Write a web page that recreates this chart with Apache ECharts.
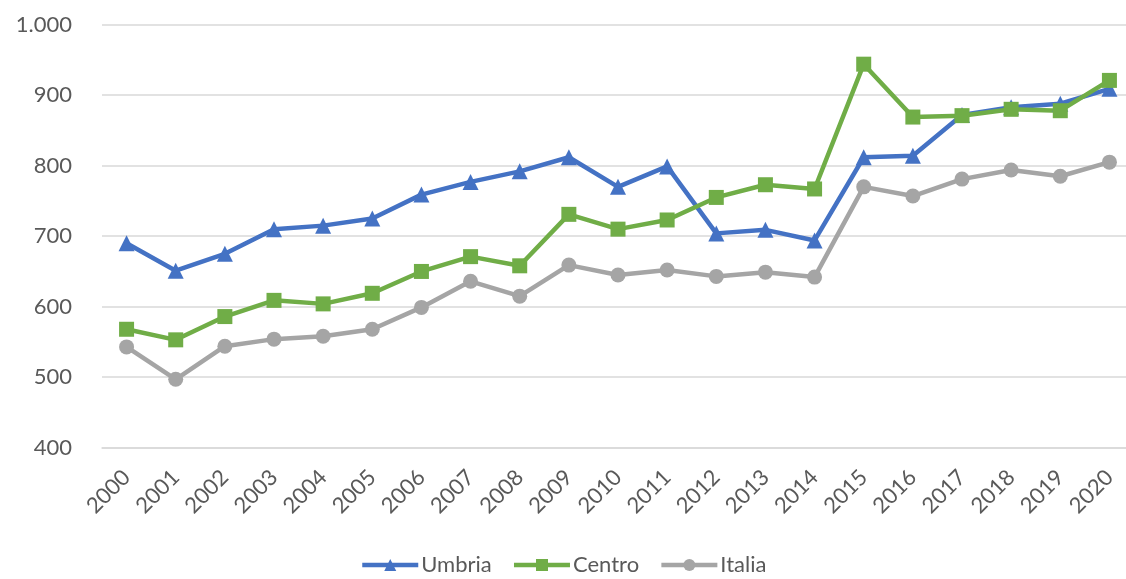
<!DOCTYPE html>
<html>
<head>
<meta charset="utf-8">
<script src="https://cdn.jsdelivr.net/npm/echarts@6/dist/echarts.min.js"></script>
<style>
  html, body { margin: 0; padding: 0; background: #ffffff; overflow: hidden; }
  #wrap { width: 1126px; height: 579px; overflow: hidden; position: relative; }
  #chart { width: 1140px; height: 579px; }
</style>
</head>
<body>
<div id="wrap"><div id="chart"></div></div>
<script>
// Years on the category axis
const years = ['2000','2001','2002','2003','2004','2005','2006','2007','2008','2009','2010',
               '2011','2012','2013','2014','2015','2016','2017','2018','2019','2020'];

// Series values
const umbria = [690, 651, 675, 710, 715, 725, 759, 777, 792, 812, 770, 799, 704, 709, 694, 812, 814, 872, 883, 888, 909];
const centro = [568, 553, 586, 609, 604, 619, 650, 671, 658, 731, 710, 723, 755, 773, 767, 944, 869, 871, 880, 878, 921];
const italia = [543, 497, 544, 554, 558, 568, 599, 636, 615, 659, 645, 652, 643, 649, 642, 770, 757, 781, 794, 785, 805];

const FONT = 'Lato, "Open Sans", sans-serif';
const TEXT = '#595959';

const chart = echarts.init(document.getElementById('chart'), null, { renderer: 'canvas' });

function lineSeries(name, data, color, symbol, size) {
  return {
    name: name,
    type: 'line',
    data: data,
    symbol: symbol,
    symbolSize: size,
    showAllSymbol: true,
    lineStyle: { color: color, width: 4.5 },
    itemStyle: { color: color },
    emphasis: { disabled: true },
    z: 3
  };
}

chart.setOption({
  animation: false,
  backgroundColor: '#ffffff',
  // plot area runs slightly past the right edge of the visible page
  grid: { left: 102, top: 24.7, width: 1032, height: 423, containLabel: false },
  legend: {
    bottom: -2,
    left: 563,
    itemWidth: 56,
    itemHeight: 15,
    itemGap: 20,
    lineStyle: { width: 4.5 },
    textStyle: { fontFamily: FONT, fontSize: 22, color: TEXT, padding: [0, 0, 0, -2] },
    data: ['Umbria', 'Centro', 'Italia']
  },
  xAxis: {
    type: 'category',
    data: years,
    boundaryGap: true,
    axisLine: { show: true, lineStyle: { color: '#D9D9D9', width: 1.5 } },
    axisTick: { show: false },
    axisLabel: {
      rotate: 45,
      margin: 26,
      interval: 0,
      fontFamily: FONT,
      fontSize: 22,
      color: TEXT
    },
    splitLine: { show: false }
  },
  yAxis: {
    type: 'value',
    min: 400,
    max: 1000,
    interval: 100,
    axisLine: { show: false },
    axisTick: { show: false },
    axisLabel: {
      margin: 30,
      fontFamily: FONT,
      fontSize: 22,
      color: TEXT,
      formatter: function (v) { return v.toLocaleString('it-IT'); }
    },
    splitLine: { lineStyle: { color: '#D9D9D9', width: 1.5 } }
  },
  series: [
    lineSeries('Umbria', umbria, '#4472C4', 'triangle', 16),
    lineSeries('Centro', centro, '#70AD47', 'rect', 15),
    lineSeries('Italia', italia, '#A5A5A5', 'circle', 15)
  ]
});

// centre the legend on the visible page width
const legendModel = chart.getModel().getComponent('legend');
const legendView = chart.getViewOfComponentModel(legendModel);
if (legendView && legendView.group) {
  const rect = legendView.group.getBoundingRect();
  chart.setOption({ legend: { left: Math.round((1126 - rect.width) / 2) } });
}
</script>
</body>
</html>
